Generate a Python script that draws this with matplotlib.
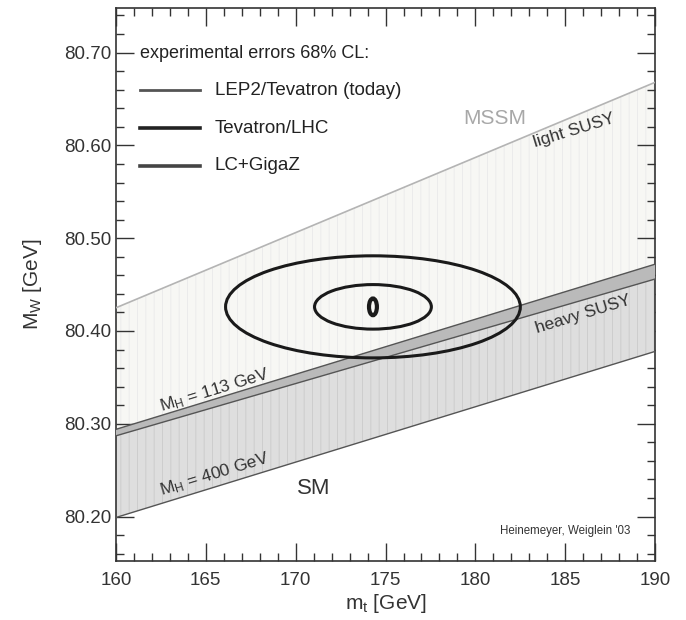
import numpy as np
import matplotlib
matplotlib.use("Agg")
import matplotlib.pyplot as plt
from matplotlib.patches import Ellipse
from matplotlib.ticker import MultipleLocator

plt.rcParams["font.family"] = ["Liberation Sans", "DejaVu Sans"]
plt.rcParams["mathtext.default"] = "regular"
plt.rcParams["hatch.linewidth"] = 0.7

# band edges, M_W vs m_t (straight lines between the plot edges)
mt = [160.0, 190.0]
mw_light_susy = [80.425, 80.668]
mw_heavy_susy = [80.287, 80.456]
mw_mh113 = [80.294, 80.472]
mw_mh400 = [80.199, 80.378]

# 68% CL error ellipses: (label, centre mt, centre mw, half-width mt, half-width mw)
ell_labels = ["LEP2/Tevatron (today)", "Tevatron/LHC", "LC+GigaZ"]
ell_mt = [174.3, 174.3, 174.3]
ell_mw = [80.426, 80.426, 80.426]
ell_dmt = [8.2, 3.25, 0.22]
ell_dmw = [0.055, 0.024, 0.009]

fig = plt.figure(figsize=(6.86, 6.20), dpi=100)
ax = fig.add_axes([0.169, 0.095, 0.786, 0.892])
ax.set_xlim(160, 190)
ax.set_ylim(80.152, 80.748)

# MSSM band (heavy SUSY .. light SUSY) and SM band (M_H=400 .. M_H=113)
ax.fill_between(mt, mw_heavy_susy, mw_light_susy, facecolor="#f7f7f4",
                edgecolor="#ebebeb", hatch="||", linewidth=0, zorder=1)
ax.fill_between(mt, mw_mh400, mw_mh113, facecolor="#dedede",
                edgecolor="#cdcdcd", hatch="||", linewidth=0, zorder=2)
ax.fill_between(mt, mw_heavy_susy, mw_mh113, facecolor="#bababa",
                linewidth=0, zorder=3)

ax.plot(mt, mw_light_susy, color="#b4b4b4", lw=1.2, zorder=4)
ax.plot(mt, mw_heavy_susy, color="#555555", lw=1.0, zorder=4)
ax.plot(mt, mw_mh113, color="#555555", lw=1.0, zorder=4)
ax.plot(mt, mw_mh400, color="#555555", lw=1.0, zorder=4)

ell_lw = [2.2, 2.2, 3.0]
for m0, w0, dm, dw, lw in zip(ell_mt, ell_mw, ell_dmt, ell_dmw, ell_lw):
    ax.add_patch(Ellipse((m0, w0), 2 * dm, 2 * dw, fill=False,
                         edgecolor="#1a1a1a", lw=lw, zorder=6))

# legend drawn by hand in axes coordinates
ax.text(0.044, 0.918, "experimental errors 68% CL:", transform=ax.transAxes,
        fontsize=13, color="#222222", va="center")
leg_colors = ["#555555", "#222222", "#444444"]
leg_lw = [2.0, 2.6, 2.6]
for i, (lab, c, lw) in enumerate(zip(ell_labels, leg_colors, leg_lw)):
    yy = 0.851 - i * 0.068
    ax.plot([0.045, 0.155], [yy, yy], transform=ax.transAxes, color=c, lw=lw)
    ax.text(0.183, yy, lab, transform=ax.transAxes, fontsize=13.5,
            color="#222222", va="center")


def slope_angle(ys):
    p0 = ax.transData.transform((mt[0], ys[0]))
    p1 = ax.transData.transform((mt[1], ys[1]))
    return np.degrees(np.arctan2(p1[1] - p0[1], p1[0] - p0[0]))


ang = slope_angle(mw_mh113)
ax.text(0.703, 0.801, "MSSM", transform=ax.transAxes, fontsize=15,
        color="#a8a8a8", ha="center", va="center")
ax.text(185.5, 80.616, "light SUSY", rotation=ang, fontsize=12.5,
        color="#333333", ha="center", va="center", zorder=7)
ax.text(186.0, 80.418, "heavy SUSY", rotation=ang, fontsize=12.5,
        color="#333333", ha="center", va="center", zorder=7)
ax.text(165.5, 80.336, r"M$_H$ = 113 GeV", rotation=ang, fontsize=12.5,
        color="#333333", ha="center", va="center", zorder=7)
ax.text(165.5, 80.246, r"M$_H$ = 400 GeV", rotation=ang, fontsize=12.5,
        color="#333333", ha="center", va="center", zorder=7)
ax.text(171.0, 80.230, "SM", fontsize=16, color="#333333",
        ha="center", va="center", zorder=7)
ax.text(0.955, 0.055, "Heinemeyer, Weiglein '03", transform=ax.transAxes,
        fontsize=8.3, color="#333333", ha="right", va="center")

ax.set_xticks([160, 165, 170, 175, 180, 185, 190])
ax.set_yticks([80.2, 80.3, 80.4, 80.5, 80.6, 80.7])
ax.set_yticklabels([f"{v:.2f}" for v in [80.2, 80.3, 80.4, 80.5, 80.6, 80.7]])
ax.xaxis.set_minor_locator(MultipleLocator(1))
ax.yaxis.set_minor_locator(MultipleLocator(0.02))
ax.tick_params(which="both", direction="in", top=True, right=True,
               labelsize=13.5, colors="#333333", width=1.0)
ax.tick_params(which="major", length=13)
ax.tick_params(which="minor", length=6)
ax.tick_params(axis="x", pad=8)
for s in ax.spines.values():
    s.set_linewidth(1.2)
    s.set_color("#333333")

ax.set_xlabel(r"m$_t$ [GeV]", fontsize=15, color="#333333", labelpad=2)
ax.set_ylabel(r"M$_W$ [GeV]", fontsize=15, color="#333333", labelpad=14)

fig.savefig("out.png", dpi=100)
